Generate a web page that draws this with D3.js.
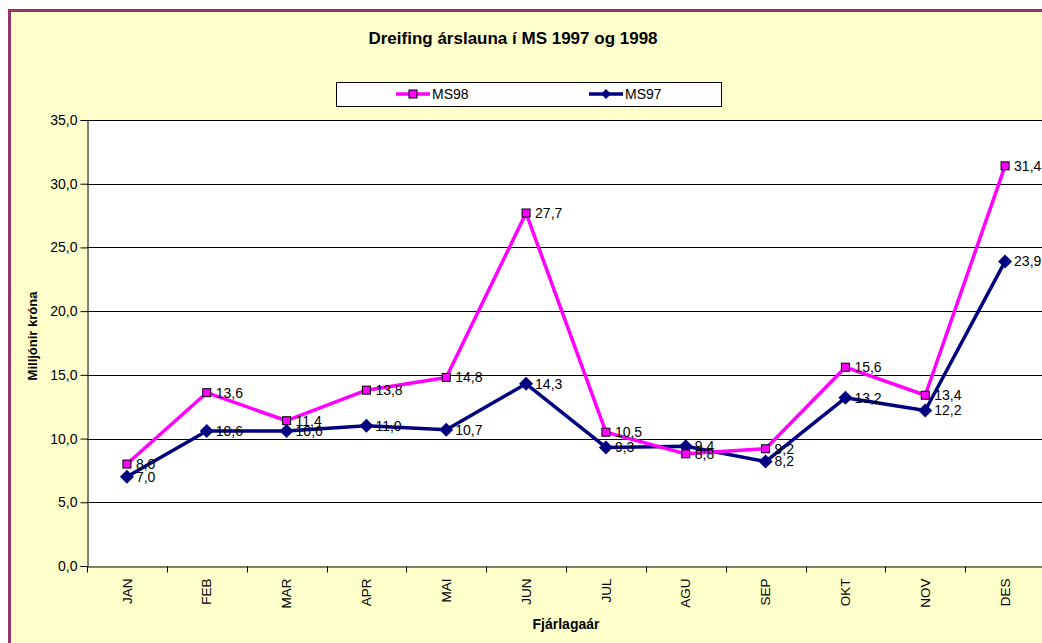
<!DOCTYPE html>
<html>
<head>
  <script src="https://d3js.org/d3.v7.min.js"></script>
  <style>
    body { margin: 0; background: #fff; }
    text { font-family: "Liberation Sans", Arial, sans-serif; }
  </style>
</head>
<body>
  <svg id="chart" width="1042" height="643"></svg>
  <script>
    const months = ["JAN", "FEB", "MAR", "APR", "MAI", "JUN", "JUL", "AGU", "SEP", "OKT", "NOV", "DES"];
    const ms98 = [8.0, 13.6, 11.4, 13.8, 14.8, 27.7, 10.5, 8.8, 9.2, 15.6, 13.4, 31.4];
    const ms97 = [7.0, 10.6, 10.6, 11.0, 10.7, 14.3, 9.3, 9.4, 8.2, 13.2, 12.2, 23.9];
    const yTicks = [0, 5, 10, 15, 20, 25, 30, 35];

    const svg = d3.select("#chart");
    const fmt = v => d3.format(".1f")(v).replace(".", ",");

    // outer chart area
    svg.append("rect")
      .attr("x", 9.5).attr("y", 10.5)
      .attr("width", 1100).attr("height", 700)
      .attr("fill", "#FFFFCC")
      .attr("stroke", "#993366")
      .attr("stroke-width", 3);

    const pLeft = 87, pRight = 1045, pTop = 120, pBottom = 566;

    const x = d3.scaleBand().domain(months).range([pLeft, pRight]);
    const y = d3.scaleLinear().domain([0, 35]).range([pBottom, pTop]);

    // plot area
    svg.append("rect")
      .attr("x", pLeft).attr("y", pTop)
      .attr("width", pRight - pLeft).attr("height", pBottom - pTop)
      .attr("fill", "#fff");

    // gridlines
    svg.append("g")
      .selectAll("line")
      .data(yTicks.filter(d => d > 0))
      .join("line")
      .attr("x1", pLeft).attr("x2", pRight)
      .attr("y1", d => Math.round(y(d)) + 0.5)
      .attr("y2", d => Math.round(y(d)) + 0.5)
      .attr("stroke", "#000");

    // y axis
    const yAxis = svg.append("g")
      .attr("transform", `translate(${pLeft + 0.5},0)`)
      .call(d3.axisLeft(y).tickValues(yTicks).tickFormat(fmt).tickSize(7).tickPadding(3));
    yAxis.select(".domain").attr("stroke", "#000");
    yAxis.selectAll(".tick line").attr("stroke", "#000");
    yAxis.selectAll("text").attr("font-size", 14).attr("fill", "#000");

    // x axis
    const xAxis = svg.append("g")
      .attr("transform", `translate(0,${pBottom + 0.5})`)
      .call(d3.axisBottom(x).tickSize(0).tickPadding(0));
    xAxis.select(".domain").attr("stroke", "#000");
    xAxis.selectAll("text")
      .attr("font-size", 13.5)
      .attr("fill", "#000")
      .attr("text-anchor", "end")
      .attr("transform", "translate(0,12) rotate(-90)")
      .attr("x", 0).attr("y", 0).attr("dy", "0.35em");
    // category boundary ticks
    xAxis.append("g")
      .selectAll("line")
      .data(d3.range(months.length + 1))
      .join("line")
      .attr("x1", i => Math.round(pLeft + i * x.step()) + 0.5)
      .attr("x2", i => Math.round(pLeft + i * x.step()) + 0.5)
      .attr("y1", 0).attr("y2", 6)
      .attr("stroke", "#000");

    const cx = m => x(m) + x.bandwidth() / 2;

    const series = [
      { name: "MS98", values: ms98, color: "#FF00FF", marker: "square" },
      { name: "MS97", values: ms97, color: "#000080", marker: "diamond" }
    ];

    // draw MS97 first so MS98 sits over it
    [series[1], series[0]].forEach(s => {
      const line = d3.line().x((d, i) => cx(months[i])).y(d => y(d));
      svg.append("path")
        .datum(s.values)
        .attr("d", line)
        .attr("fill", "none")
        .attr("stroke", s.color)
        .attr("stroke-width", 3.5)
        .attr("stroke-linejoin", "round");
    });

    [series[1], series[0]].forEach(s => {
      const g = svg.append("g");
      if (s.marker === "square") {
        g.selectAll("rect")
          .data(s.values)
          .join("rect")
          .attr("x", (d, i) => cx(months[i]) - 4)
          .attr("y", d => y(d) - 4)
          .attr("width", 8).attr("height", 8)
          .attr("fill", s.color)
          .attr("stroke", "#000")
          .attr("stroke-width", 1);
      } else {
        g.selectAll("path")
          .data(s.values)
          .join("path")
          .attr("transform", (d, i) => `translate(${cx(months[i])},${y(d)})`)
          .attr("d", "M0,-7L7,0L0,7L-7,0Z")
          .attr("fill", s.color);
      }
    });

    // data labels
    series.forEach(s => {
      svg.append("g")
        .selectAll("text")
        .data(s.values)
        .join("text")
        .attr("x", (d, i) => cx(months[i]) + 9)
        .attr("y", d => y(d))
        .attr("dy", "0.35em")
        .attr("font-size", 14)
        .attr("fill", "#000")
        .text(fmt);
    });

    // title
    svg.append("text")
      .attr("x", 513).attr("y", 44)
      .attr("text-anchor", "middle")
      .attr("font-size", 17).attr("font-weight", "bold")
      .text("Dreifing árslauna í MS 1997 og 1998");

    // axis titles
    svg.append("text")
      .attr("transform", `translate(37,336) rotate(-90)`)
      .attr("text-anchor", "middle")
      .attr("font-size", 13).attr("font-weight", "bold")
      .text("Milljónir króna");

    svg.append("text")
      .attr("x", 566).attr("y", 629)
      .attr("text-anchor", "middle")
      .attr("font-size", 14).attr("font-weight", "bold")
      .text("Fjárlagaár");

    // legend
    const legend = svg.append("g");
    legend.append("rect")
      .attr("x", 336.5).attr("y", 82.5)
      .attr("width", 385).attr("height", 24)
      .attr("fill", "#fff").attr("stroke", "#000");
    const legendX = [396, 589];
    series.forEach((s, i) => {
      const lx = legendX[i], ly = 94;
      legend.append("line")
        .attr("x1", lx).attr("x2", lx + 34)
        .attr("y1", ly).attr("y2", ly)
        .attr("stroke", s.color).attr("stroke-width", 3.5);
      if (s.marker === "square") {
        legend.append("rect")
          .attr("x", lx + 13).attr("y", ly - 4)
          .attr("width", 8).attr("height", 8)
          .attr("fill", s.color).attr("stroke", "#000");
      } else {
        legend.append("path")
          .attr("transform", `translate(${lx + 17},${ly})`)
          .attr("d", "M0,-5L5,0L0,5L-5,0Z")
          .attr("fill", s.color);
      }
      legend.append("text")
        .attr("x", lx + 36).attr("y", ly)
        .attr("dy", "0.35em")
        .attr("font-size", 14)
        .text(s.name);
    });
  </script>
</body>
</html>
